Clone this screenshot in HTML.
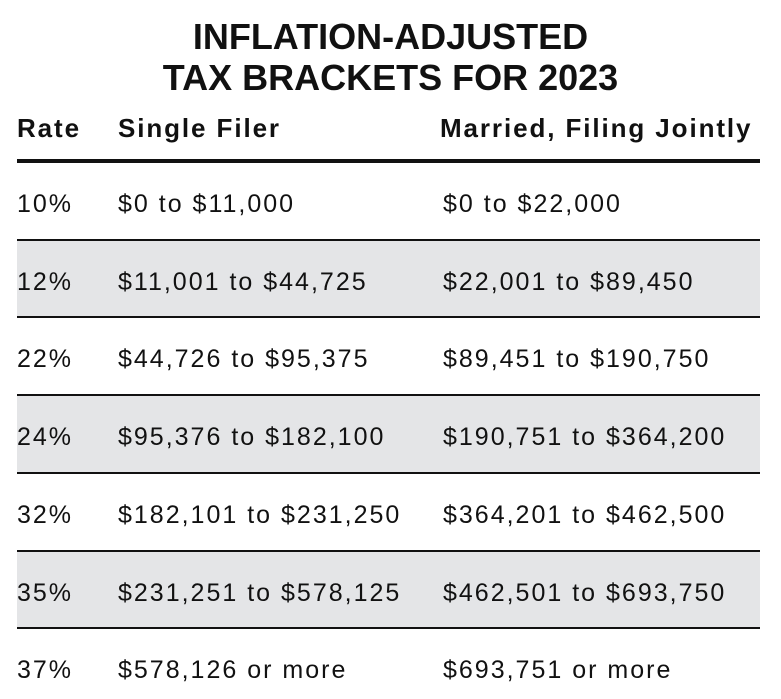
<!DOCTYPE html>
<html><head><meta charset="utf-8">
<style>
html,body{margin:0;padding:0;background:#fff;}
#wrap{position:relative;width:781px;height:699px;overflow:hidden;font-family:"Liberation Sans",sans-serif;color:#111;}
.t{position:absolute;white-space:nowrap;}
.title{left:0;width:781px;text-align:center;font-weight:bold;font-size:36px;line-height:36px;}
.hd{font-weight:bold;font-size:26px;line-height:26px;letter-spacing:1.9px;}
.cell{font-size:25px;line-height:25px;letter-spacing:2px;}
.rule{position:absolute;left:17px;width:743px;background:#111;}
.shade{position:absolute;left:17px;width:743px;background:#e4e5e7;}
</style></head>
<body>
<div id="wrap">
  <div class="t title" style="top:19px">INFLATION-ADJUSTED</div>
  <div class="t title" style="top:60px">TAX BRACKETS FOR 2023</div>
  <div class="t hd" style="left:17px;top:115px">Rate</div>
  <div class="t hd" style="left:118px;top:115px">Single Filer</div>
  <div class="t hd" style="left:440px;top:115px">Married, Filing Jointly</div>
  <div class="rule" style="top:159px;height:4px"></div>
</div>
<script>
const rates = ["10%","12%","22%","24%","32%","35%","37%"];
const singleFiler = ["$0 to $11,000","$11,001 to $44,725","$44,726 to $95,375","$95,376 to $182,100","$182,101 to $231,250","$231,251 to $578,125","$578,126 or more"];
const marriedJointly = ["$0 to $22,000","$22,001 to $89,450","$89,451 to $190,750","$190,751 to $364,200","$364,201 to $462,500","$462,501 to $693,750","$693,751 or more"];

const wrap = document.getElementById('wrap');
const rowTop = 163, pitch = 77.7;
rates.forEach((r, i) => {
  const top = rowTop + i * pitch;
  if (i % 2 === 1) {
    const s = document.createElement('div');
    s.className = 'shade';
    s.style.top = (top) + 'px';
    s.style.height = (pitch - 1) + 'px';
    
    
    wrap.appendChild(s);
  }
  const cols = [[17, r, 'rate-cell'], [118, singleFiler[i], 'single-filer-cell'], [443, marriedJointly[i], 'married-jointly-cell']];
  cols.forEach(c => {
    const d = document.createElement('div');
    d.className = 't cell';
    d.style.left = c[0] + 'px';
    d.style.top = (top + 29) + 'px';
    d.textContent = c[1];
    
    
    wrap.appendChild(d);
  });
  if (i < rates.length - 1) {
    const l = document.createElement('div');
    l.className = 'rule';
    l.style.top = (top + pitch - 2) + 'px';
    l.style.height = '2px';
    
    
    wrap.appendChild(l);
  }
});
</script>
</body></html>
